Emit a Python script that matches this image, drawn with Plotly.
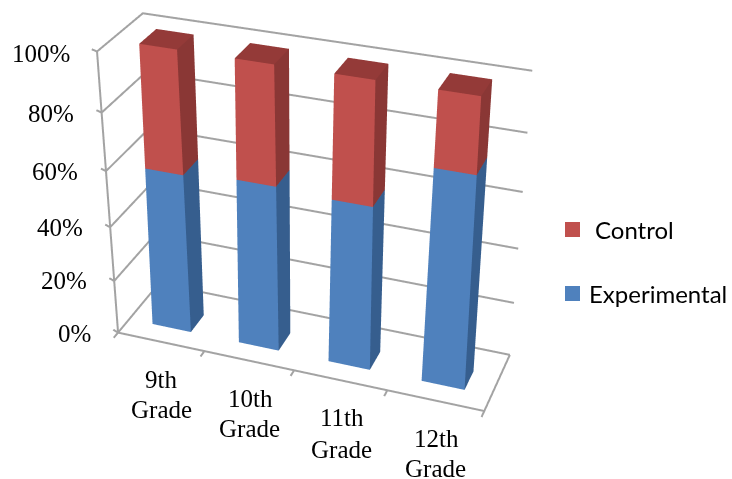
import plotly.graph_objects as go

categories = ["9th<br>Grade", "10th<br>Grade", "11th<br>Grade", "12th<br>Grade"]
experimental = [58.0, 59.8, 58.8, 75.2]
control = [42.0, 40.2, 41.2, 24.8]
ticks = [0, 20, 40, 60, 80, 100]

W, H = 732, 479
PX = 340
# camera and box shape
EYE = (0.5162, -1.0016, 2.1928)
CENTER = (0.0590, 0.2472, 0.1384)
ASPECT_Y, ASPECT_Z = 0.3136, 0.9515
# bar half width, and front/back depth, each with a change per unit height
BW, BW1, D0, D1, E0, E1 = 0.0561, -0.0059, 0.265, 0.597, 0.0373, 0.0894
# horizontal adjustment of the box so that it reads like the tilted original
A1, A2, A3, A4 = -0.1712, -0.0006, 0.0037, 0.0302
B1, B2, B3, B4, B5 = 2.8146, -0.0171, -0.0164, -0.0093, 0.7677


def warp(x, y, z):
    t = z / 100
    u, v = x - .5, y - .5
    return (x + A1 * t + A2 * u * t + A3 * v * u + A4 * v,
            y + B1 * t + B2 * v * t + B3 * u * t + B4 * u * v + B5 * u,
            z)


fig = go.Figure()
gx, gy, gz = [], [], []


def seg(*pts):
    for a in pts:
        q = warp(*a)
        gx.append(q[0]); gy.append(q[1]); gz.append(q[2])
    gx.append(None); gy.append(None); gz.append(None)


for t in ticks:
    seg((-.018, .03, t), (0, 0, t), (0, 1, t), (1, 1, t))
seg((0, 0, 0), (0, 0, 100))
seg((0, 0, 0), (1, 0, 0), (1, 1, 0))
for k in range(5):
    seg((k / 4, 0, 0), (k / 4, -.1, 0))
fig.add_trace(go.Scatter3d(x=gx, y=gy, z=gz, mode="lines", line=dict(color="#A3A3A3", width=4),
                           showlegend=False, hoverinfo="skip"))


def add_series(lows, highs, name, front, sidec, topc):
    vx, vy, vz, I, J, K, fc = [], [], [], [], [], [], []
    for i, (lo, hi) in enumerate(zip(lows, highs)):
        def V(side, back, z):
            t = z / 100
            x = (i + .5) / 4 + side * (BW + BW1 * t)
            y = (D1 + E1 * t) if back else (D0 + E0 * t)
            q = warp(x, y, z)
            vx.append(q[0]); vy.append(q[1]); vz.append(q[2])
            return len(vx) - 1

        def quad(a, b, c, d, col):
            I.extend([a, a]); J.extend([b, c]); K.extend([c, d]); fc.extend([col, col])

        quad(V(-1, 0, lo), V(1, 0, lo), V(1, 0, hi), V(-1, 0, hi), front)
        quad(V(1, 0, lo), V(1, 1, lo), V(1, 1, hi), V(1, 0, hi), sidec)
        quad(V(-1, 0, hi), V(1, 0, hi), V(1, 1, hi), V(-1, 1, hi), topc)
    fig.add_trace(go.Mesh3d(x=vx, y=vy, z=vz, i=I, j=J, k=K, facecolor=fc, flatshading=True, name=name,
                            showlegend=False, hoverinfo="name",
                            lighting=dict(ambient=1, diffuse=0, specular=0, roughness=1, fresnel=0)))


add_series([0] * 4, experimental, "Experimental", "#4F81BD", "#365E8E", "#3F6797")
add_series(experimental, [a + b for a, b in zip(experimental, control)], "Control", "#C0504D", "#8A3735", "#943A38")

ax = dict(visible=False, showgrid=False, zeroline=False, showbackground=False, autorange=False)
xw, yw = 4, 8
fig.update_layout(
    width=W, height=H, margin=dict(l=0, r=0, t=0, b=0), paper_bgcolor="white", showlegend=False,
    scene=dict(domain=dict(x=[0, 2 * PX / W], y=[0, 1]),
               xaxis=dict(ax, range=[.5 - xw / 2, .5 + xw / 2]),
               yaxis=dict(ax, range=[.5 - yw / 2, .5 + yw / 2]),
               zaxis=dict(ax, range=[-5, 105]),
               aspectmode="manual", aspectratio=dict(x=xw * 1.8, y=yw * ASPECT_Y, z=1.1 * ASPECT_Z),
               camera=dict(eye=dict(x=EYE[0], y=EYE[1], z=EYE[2]),
                           center=dict(x=CENTER[0], y=CENTER[1], z=CENTER[2]),
                           up=dict(x=0, y=0, z=1), projection=dict(type="perspective"))))

serif = dict(family="Liberation Serif", size=25, color="black")
for t, (x0, y0) in zip(ticks, [(93, 333), (89, 280), (85, 227), (80, 171), (76, 113), (72, 54)]):
    fig.add_annotation(text=f"{t}%", xref="paper", yref="paper", x=x0 / W, y=1 - y0 / H,
                       xanchor="right", yanchor="middle", showarrow=False, font=serif)
label_pos = [((161, 379), (161, 409)), ((250, 398), (249, 428)), ((342, 417), (341, 449)), ((436, 438), (435, 468))]
for c, pos in zip(categories, label_pos):
    for line, (x0, y0) in zip(c.split("<br>"), pos):
        fig.add_annotation(text=line, xref="paper", yref="paper", x=x0 / W, y=1 - y0 / H,
                           xanchor="center", yanchor="middle", showarrow=False, font=serif)
for name, col, y0, x0 in [("Control", "#C0504D", 222, 593), ("Experimental", "#4F81BD", 286, 587)]:
    fig.add_shape(type="rect", xref="paper", yref="paper", x0=565 / W, x1=580 / W, y0=1 - y0 / H,
                  y1=1 - (y0 + 15) / H, fillcolor=col, line_width=0)
    fig.add_annotation(text=name, xref="paper", yref="paper", x=x0 / W, y=1 - (y0 + 7.5) / H,
                       xanchor="left", yanchor="middle", showarrow=False,
                       font=dict(family="Lato", size=24, color="black"))
fig.write_html("out.html", config=dict(displayModeBar=False), post_script="document.body.style.margin='0';")
